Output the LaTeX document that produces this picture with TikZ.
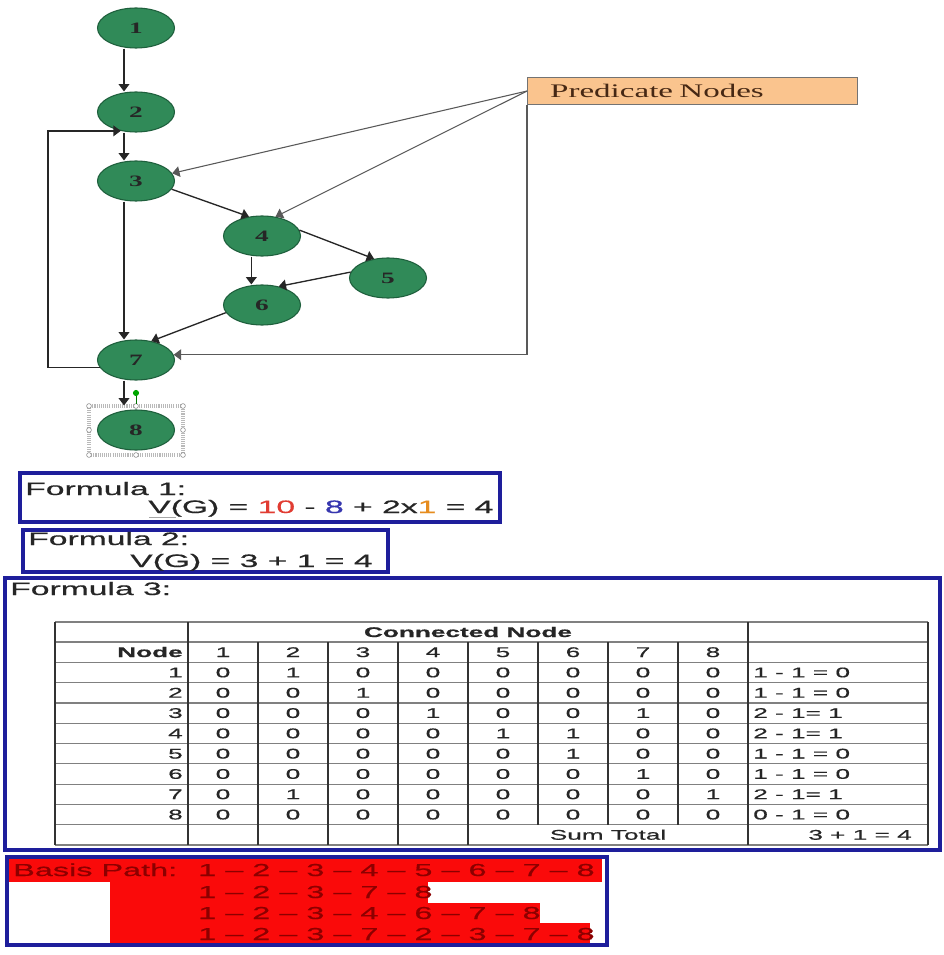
\documentclass[tikz,border=0pt]{standalone}
\usepackage{fontspec}
\usepackage{tikz}
\usetikzlibrary{shapes.geometric,arrows.meta}
\newfontfamily\xlsfont{Liberation Sans}[FakeStretch=1.87,FakeBold=0.6]
\newfontfamily\pptfont{Liberation Serif}[FakeStretch=1.72]
\definecolor{nodegreen}{RGB}{48,138,88}
\definecolor{nodeedge}{RGB}{30,95,60}
\definecolor{predfill}{RGB}{250,196,142}
\definecolor{predtext}{RGB}{70,40,20}
\definecolor{boxblue}{RGB}{30,30,155}
\definecolor{pathred}{RGB}{250,10,10}
\definecolor{pathtext}{RGB}{140,0,0}
\definecolor{numred}{RGB}{225,60,50}
\definecolor{numblue}{RGB}{55,55,175}
\definecolor{numorange}{RGB}{230,140,30}
\tikzset{
gnode/.style={ellipse,draw=nodeedge,line width=0.8pt,fill=nodegreen,minimum width=57.75pt,minimum height=30pt,inner sep=0pt,text=black!85,font={\pptfont\bfseries\fontsize{11.9}{13}\selectfont}},
flow/.style={-{Triangle[width=8pt,length=5.5pt]},line width=1pt,black!85},
predflow/.style={-{Triangle[width=8pt,length=5.5pt]},line width=0.8pt,black!65},
prednode/.style={draw=black!55,line width=0.8pt,fill=predfill,text=predtext,minimum height=20.25pt,inner xsep=17pt,text width=213.5pt,align=left,font={\pptfont\fontsize{14.4}{16}\selectfont}},
fbox/.style={draw=boxblue,line width=2.4pt},
ftext/.style={inner sep=0pt,anchor=base west,text=black!85,font={\xlsfont\fontsize{13.5}{15}\selectfont}},
tabcell/.style={inner sep=0pt,anchor=base,text=black!85,font={\xlsfont\fontsize{10.5}{12}\selectfont}},
tabhead/.style={tabcell,font={\xlsfont\bfseries\fontsize{10.5}{12}\selectfont}},
hline/.style={black!50,line width=0.9pt},
vline/.style={black!80,line width=1pt},
pathtxt/.style={inner sep=0pt,anchor=base west,text=pathtext,font={\xlsfont\fontsize{13}{15}\selectfont}}
}
\newcommand{\matrow}[3]{
\node[tabcell,anchor=base east] (row#1) at (183,{657+20.3*#1}) {#1};
\foreach \v [count=\col] in {#2} \node[tabcell] (row#1col\col) at ({153+70*\col},{657+20.3*#1}) {\v};
\node[tabcell,anchor=base west] (diff#1) at (753,{657+20.3*#1}) {#3};
}
\newcommand{\dash}{~\textendash~}
\begin{document}
\begin{tikzpicture}[x=0.75pt,y=-0.75pt]
\useasboundingbox (0,0) rectangle (944,955);
\fill[white] (0,0) rectangle (944,955);

% flow graph
\draw[gray!55,line width=2.6pt,dash pattern=on 0.8pt off 0.8pt] (89,406) rectangle (183,455);
\foreach \p in {(89,406),(136,406),(183,406),(89,430),(183,430),(89,455),(136,455),(183,455)}
    \draw[gray,fill=white,line width=0.4pt] \p circle (1.8pt);
\draw[green!45!black,line width=0.6pt] (136,404) -- (136,394);
\fill[green!65!black] (136,393) circle (2.3pt);

\node[gnode] (n1) at (136,28) {1};
\node[gnode] (n2) at (136,112) {2};
\node[gnode] (n3) at (136,181) {3};
\node[gnode] (n4) at (262,236) {4};
\node[gnode] (n5) at (388,278) {5};
\node[gnode] (n6) at (262,305) {6};
\node[gnode] (n7) at (136,360) {7};
\node[gnode] (n8) at (136,430) {8};
\node[prednode,anchor=north west] (pred) at (527,77) {Predicate Nodes};
\coordinate (loopx) at (48,0);

\draw[flow] ([xshift=-9pt]n1.south) -- ([xshift=-9pt]n2.north);
\draw[flow] ([xshift=-9pt]n2.south) -- ([xshift=-9pt]n3.north);
\draw[flow] ([xshift=-9pt]n3.south) -- ([xshift=-9pt]n7.north);
\draw[flow,shorten >=3pt] ([xshift=-9pt]n7.south) -- ([xshift=-9pt]n8.north);
\draw[flow] (n3.-13) -- (n4.124);
\draw[flow] (n4.9) -- (n5.126);
\draw[flow] ([xshift=-8pt]n4.south) -- ([xshift=-8pt]n6.north);
\draw[flow] (n5.171) -- (n6.48);
\draw[flow] (n6.192) -- (n7.51);
\draw[flow] (n7.192) -- (n7.192 -| loopx) |- (n2.231);
\draw[predflow] (pred.west) -- (n3.12);
\draw[predflow] (pred.west) -- (n4.55);
\draw[predflow] (pred.south west) |- (n7.8);

% formulas
\draw[fbox] (20,473) rectangle (500,522);
\node[ftext] (f1) at (25,495) {Formula 1:};
\node[ftext] (v1) at (148,513) {V(G) = \textcolor{numred}{10} - \textcolor{numblue}{8} + 2x\textcolor{numorange}{1} = 4};
\draw[gray!70,line width=0.6pt] (149,517) -- (176,517);
\draw[fbox] (23,530) rectangle (388,572);
\node[ftext] (f2) at (28,545) {Formula 2:};
\node[ftext] (v2) at (130,567) {V(G) = 3 + 1 = 4};
\draw[fbox] (5,578) rectangle (940,850);
\node[ftext] (f3) at (10,595) {Formula 3:};

% table
\draw[hline] (55,622) -- (928,622);
\foreach \j in {0,...,10} \draw[hline] (55,{642+20.3*\j}) -- (928,{642+20.3*\j});
\foreach \x in {55,188,748,928} \draw[vline] (\x,622) -- (\x,845);
\foreach \x in {258,328,398,468} \draw[vline] (\x,642) -- (\x,845);
\foreach \x in {538,608,678} \draw[vline] (\x,642) -- (\x,824.7);
\node[tabhead] (conn) at (468,637) {Connected Node};
\node[tabhead,anchor=base east] (nodehd) at (183,657) {Node};
\foreach \col in {1,...,8} \node[tabcell] (hd\col) at ({153+70*\col},657) {\col};
\matrow{1}{0,1,0,0,0,0,0,0}{1 - 1 = 0}
\matrow{2}{0,0,1,0,0,0,0,0}{1 - 1 = 0}
\matrow{3}{0,0,0,1,0,0,1,0}{2 - 1= 1}
\matrow{4}{0,0,0,0,1,1,0,0}{2 - 1= 1}
\matrow{5}{0,0,0,0,0,1,0,0}{1 - 1 = 0}
\matrow{6}{0,0,0,0,0,0,1,0}{1 - 1 = 0}
\matrow{7}{0,1,0,0,0,0,0,1}{2 - 1= 1}
\matrow{8}{0,0,0,0,0,0,0,0}{0 - 1 = 0}
\node[tabcell] (sum) at (608,839.7) {Sum Total};
\node[tabcell,anchor=base east] (total) at (912,839.7) {3 + 1 = 4};

% basis paths
\fill[pathred] (9,859) rectangle (602,882);
\fill[pathred] (110,882) rectangle (428,903);
\fill[pathred] (110,903) rectangle (540,923);
\fill[pathred] (110,923) rectangle (590,944);
\draw[fbox] (7,857) rectangle (607,945);
\node[pathtxt] (bp) at (13,876) {Basis Path:};
\node[pathtxt] (p1) at (198,876) {1\dash 2\dash 3\dash 4\dash 5\dash 6\dash 7\dash 8};
\node[pathtxt] (p2) at (198,898) {1\dash 2\dash 3\dash 7\dash 8};
\node[pathtxt] (p3) at (198,919) {1\dash 2\dash 3\dash 4\dash 6\dash 7\dash 8};
\node[pathtxt] (p4) at (198,940) {1\dash 2\dash 3\dash 7\dash 2\dash 3\dash 7\dash 8};
\end{tikzpicture}
\end{document}
